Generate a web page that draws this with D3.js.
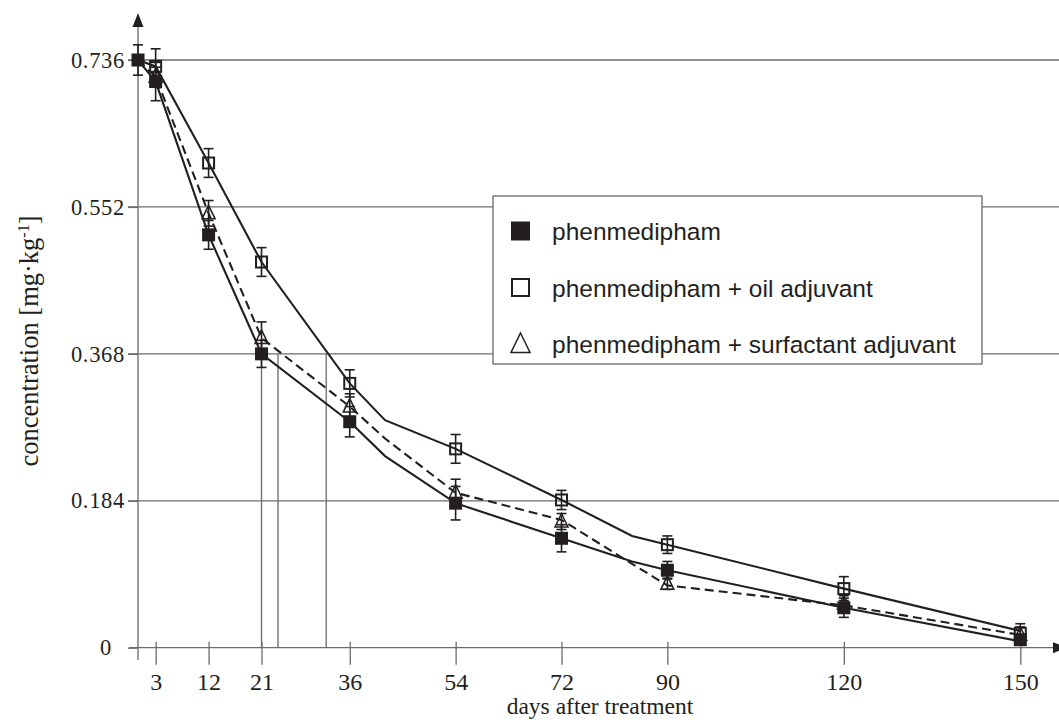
<!DOCTYPE html>
<html lang="en">
<head>
<meta charset="UTF-8">
<title>Phenmedipham dissipation</title>
<script src="https://cdn.jsdelivr.net/npm/d3@7"></script>
<style>
  body { margin: 0; background: #fff; }
  svg { display: block; }
</style>
</head>
<body>
<div id="chart"></div>
<script>
// measured days and mean concentrations (mg/kg) with error bar half-widths
var days = [0, 3, 12, 21, 36, 54, 72, 90, 120, 150];
var phen = [0.736, 0.709, 0.517, 0.368, 0.283, 0.181, 0.137, 0.097, 0.050, 0.010];
var phenErr = [0.019, 0.024, 0.018, 0.017, 0.019, 0.021, 0.017, 0.011, 0.012, 0.006];
var oil = [0.736, 0.728, 0.607, 0.483, 0.331, 0.249, 0.185, 0.129, 0.074, 0.018];
var oilErr = [0, 0.022, 0.018, 0.018, 0.017, 0.018, 0.012, 0.011, 0.015, 0.012];
var surf = [0.736, 0.715, 0.544, 0.388, 0.302, 0.194, 0.158, 0.080, 0.055, 0.016];
var surfErr = [0, 0.012, 0.016, 0.020, 0.016, 0.017, 0.010, 0.007, 0.010, 0.010];

// fitted curves, drawn as polylines
var lineDays = [0, 3, 12, 21, 36, 42, 54, 72, 84, 90, 120, 150];
var phenLine = [0.736, 0.709, 0.517, 0.368, 0.283, 0.240, 0.181, 0.137, 0.108, 0.097, 0.050, 0.008];
var oilLine = [0.736, 0.728, 0.607, 0.483, 0.331, 0.285, 0.249, 0.185, 0.140, 0.129, 0.074, 0.021];
var surfLine = [0.736, 0.715, 0.544, 0.388, 0.302, 0.262, 0.194, 0.160, 0.105, 0.078, 0.053, 0.016];

// half-life (DT50) days
var halfLives = [21, 23.8, 32];
var halfValue = 0.368;

var xTicks = [3, 12, 21, 36, 54, 72, 90, 120, 150];
var yTicks = [0, 0.184, 0.368, 0.552, 0.736];

var names = ['phenmedipham', 'phenmedipham + oil adjuvant', 'phenmedipham + surfactant adjuvant'];

var width = 1059, height = 720;
var ink = '#231f20', grey = '#6a6b6d';
var serif = '"Liberation Serif", "Times New Roman", serif';

var svg = d3.select('#chart').append('svg')
    .attr('width', width)
    .attr('height', height);

var x = d3.scaleLinear().domain([0, 150]).range([138, 1020.3]);
var y = d3.scaleLinear().domain([0, 0.736]).range([647.7, 60]);

// horizontal grid
svg.append('g').selectAll('line')
    .data(yTicks.filter(d => d > 0))
    .join('line')
    .attr('x1', 128).attr('x2', width)
    .attr('y1', d => y(d)).attr('y2', d => y(d))
    .attr('stroke', grey).attr('stroke-width', 1.3);

// half-life drop lines
svg.append('g').selectAll('line')
    .data(halfLives)
    .join('line')
    .attr('x1', d => x(d)).attr('x2', d => x(d))
    .attr('y1', y(0)).attr('y2', y(halfValue))
    .attr('stroke', grey).attr('stroke-width', 1.3);

// x axis
var gx = svg.append('g')
    .attr('transform', 'translate(0,' + y(0) + ')')
    .call(d3.axisBottom(x).tickValues(xTicks).tickSize(17).tickSizeOuter(0));
gx.select('.domain').remove();
gx.append('line').attr('x1', 129).attr('x2', 1056).attr('stroke', grey).attr('stroke-width', 1.3);
gx.selectAll('.tick line').attr('y1', -6).attr('stroke', grey).attr('stroke-width', 1.3);
gx.selectAll('.tick text')
    .attr('y', 42).attr('dy', 0)
    .attr('fill', ink)
    .style('font-family', serif)
    .style('font-size', '24px');
svg.append('path')
    .attr('d', 'M1067,' + y(0) + 'L1053,' + (y(0) - 5.5) + 'L1053,' + (y(0) + 5.5) + 'Z')
    .attr('fill', ink);

// y axis
var gy = svg.append('g')
    .attr('transform', 'translate(138,0)')
    .call(d3.axisLeft(y).tickValues(yTicks).tickSize(10).tickSizeOuter(0)
        .tickFormat(d => d === 0 ? '0' : d3.format('.3f')(d)));
gy.select('.domain').remove();
gy.append('line').attr('y1', 660).attr('y2', 24).attr('stroke', grey).attr('stroke-width', 1.3);
gy.selectAll('.tick line').attr('stroke', grey).attr('stroke-width', 1.3);
gy.selectAll('.tick text')
    .attr('x', d => d === 0 ? -26 : -13)
    .attr('fill', ink)
    .style('font-family', serif)
    .style('font-size', '22.5px')
    .style('letter-spacing', '0.7px');
svg.append('path')
    .attr('d', 'M138,13L132.5,27L143.5,27Z')
    .attr('fill', ink);

// axis titles
svg.append('text')
    .attr('x', 600).attr('y', 714)
    .attr('text-anchor', 'middle')
    .attr('fill', ink)
    .style('font-family', serif)
    .style('font-size', '23.5px')
    .text('days after treatment');

var yt = svg.append('text')
    .attr('transform', 'translate(38,341) rotate(-90)')
    .attr('text-anchor', 'middle')
    .attr('fill', ink)
    .style('font-family', serif)
    .style('font-size', '26.5px');
yt.append('tspan').text('concentration [mg\u00b7kg');
yt.append('tspan').attr('dy', -9).style('font-size', '16px').text('-1');
yt.append('tspan').attr('dy', 9).text(']');

// series
var series = [
    { name: names[1], vals: oil, err: oilErr, line: oilLine, dash: null, mark: 'open' },
    { name: names[2], vals: surf, err: surfErr, line: surfLine, dash: '9,5', mark: 'tri' },
    { name: names[0], vals: phen, err: phenErr, line: phenLine, dash: null, mark: 'fill' }
];

var line = d3.line().x(d => x(d[0])).y(d => y(d[1]));

series.forEach(function(s) {
    svg.append('path')
        .datum(d3.zip(lineDays, s.line))
        .attr('d', line)
        .attr('fill', 'none')
        .attr('stroke', ink)
        .attr('stroke-width', 2.1)
        .attr('stroke-dasharray', s.dash);
});

function drawMarker(g, kind, size) {
    var h = size / 2;
    if (kind === 'fill') {
        g.append('rect').attr('x', -h).attr('y', -h).attr('width', size).attr('height', size).attr('fill', ink);
    } else if (kind === 'open') {
        g.append('rect').attr('x', -h + 1).attr('y', -h + 1).attr('width', size - 2).attr('height', size - 2)
            .attr('fill', 'none').attr('stroke', ink).attr('stroke-width', 2);
    } else {
        g.append('path')
            .attr('d', 'M0,' + (-h - 1.5) + 'L' + h + ',' + (h - 1) + 'L' + (-h) + ',' + (h - 1) + 'Z')
            .attr('fill', 'none').attr('stroke', ink).attr('stroke-width', 1.5);
    }
}

series.forEach(function(s) {
    var pts = days.map((d, i) => ({ day: d, v: s.vals[i], e: s.err[i] }))
        .filter(p => s.mark === 'fill' || p.day > 0);
    var g = svg.append('g');
    var eb = g.selectAll('.err').data(pts.filter(p => p.e > 0)).join('g')
        .attr('transform', p => 'translate(' + x(p.day) + ',0)')
        .attr('stroke', ink).attr('stroke-width', 1.6);
    eb.append('line').attr('y1', p => y(p.v + p.e)).attr('y2', p => y(p.v - p.e));
    eb.append('line').attr('x1', -5).attr('x2', 5).attr('y1', p => y(p.v + p.e)).attr('y2', p => y(p.v + p.e));
    eb.append('line').attr('x1', -5).attr('x2', 5).attr('y1', p => y(p.v - p.e)).attr('y2', p => y(p.v - p.e));
    g.selectAll('.mk').data(pts).join('g')
        .attr('transform', p => 'translate(' + x(p.day) + ',' + y(p.v) + ')')
        .each(function() { drawMarker(d3.select(this), s.mark, 13); });
});

// legend
var leg = svg.append('g');
leg.append('rect')
    .attr('x', 493).attr('y', 196).attr('width', 489).attr('height', 168)
    .attr('fill', '#fff').attr('stroke', grey).attr('stroke-width', 1.3);
var legItems = [
    { name: names[0], mark: 'fill' },
    { name: names[1], mark: 'open' },
    { name: names[2], mark: 'tri' }
];
legItems.forEach(function(it, i) {
    var cy = 231 + i * 56.5;
    var m = leg.append('g').attr('transform', 'translate(520.5,' + cy + ')');
    drawMarker(m, it.mark, 19);
    leg.append('text')
        .attr('x', 552).attr('y', cy + 9)
        .attr('fill', ink)
        .style('font-family', '"Liberation Sans", Arial, sans-serif')
        .style('font-size', '24.5px')
        .text(it.name);
});
</script>
</body>
</html>
